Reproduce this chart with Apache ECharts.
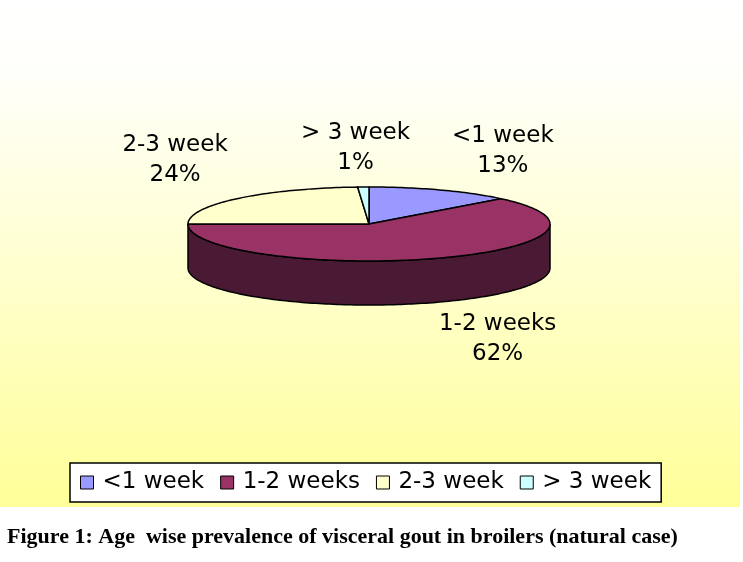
<!DOCTYPE html>
<html lang="en">
<head>
    <meta charset="UTF-8">
    <title>Age wise prevalence of visceral gout in broilers</title>
    <script src="https://cdn.jsdelivr.net/npm/echarts@6/dist/echarts.min.js"></script>
    <style>
        html, body { margin: 0; padding: 0; background: #fff; }
    </style>
</head>
<body>
<div id="main" style="width: 743px;height:562px;"></div>
<script>
    // data (percent of cases)
    var ageGroups = ['<1 week', '1-2 weeks', '2-3 week', '> 3 week'];
    var cases = [13, 62, 24, 1];
    var topColors = ['#9999FF', '#993366', '#FFFFCC', '#CCFFFF'];
    var sideColors = ['#5C5C99', '#4A1A35', '#99997A', '#7A9999'];

    var total = cases.reduce(function (a, b) { return a + b; }, 0);
    var starts = [];
    var acc = 0;
    cases.forEach(function (v) { starts.push(acc); acc += v; });

    // pie geometry
    var cx = 369, cy = 224, rx = 181, ry = 37, depth = 44;

    function pt(t, dy) {
        return [cx + rx * Math.sin(t), cy - ry * Math.cos(t) + (dy || 0)];
    }

    function arc(a, b, dy) {
        var pts = [];
        var n = Math.max(2, Math.ceil((b - a) / 0.02));
        for (var i = 0; i <= n; i++) pts.push(pt(a + (b - a) * i / n, dy));
        return pts;
    }

    function renderSlice(params, api) {
        var i = params.dataIndex;
        var a = starts[i] / total * Math.PI * 2;
        var b = (starts[i] + cases[i]) / total * Math.PI * 2;
        var children = [];

        // front wall: only the part between 90 and 270 degrees is visible
        var sa = Math.max(a, Math.PI / 2), sb = Math.min(b, Math.PI * 1.5);
        if (sb > sa) {
            var top = arc(sa, sb, 0);
            var bottom = arc(sa, sb, depth).reverse();
            children.push({
                type: 'polygon',
                z2: 1,
                shape: { points: top.concat(bottom) },
                style: { fill: sideColors[i], stroke: '#000', lineWidth: 1.5 }
            });
        }

        children.push({
            type: 'polygon',
            z2: 2,
            shape: { points: [[cx, cy]].concat(arc(a, b, 0)) },
            style: { fill: topColors[i], stroke: '#000', lineWidth: 1.5, lineJoin: 'round' }
        });

        // data label, set off from the rim at the slice's middle angle
        var m = (a + b) / 2;
        var front = Math.cos(m) < 0;
        var rim = pt(m, front ? depth : 0);
        var sx = Math.max(-1, Math.min(1, Math.sin(m) * 4));
        children.push({
            type: 'text',
            z2: 3,
            style: {
                x: rim[0] + 62 * sx,
                y: rim[1] + (front ? 37 : -39),
                text: ageGroups[i] + '\n' + Math.round(cases[i] / total * 100) + '%',
                align: 'center',
                verticalAlign: 'middle',
                fill: '#000',
                font: '23px "DejaVu Sans"',
                lineHeight: 30
            }
        });

        return { type: 'group', children: children };
    }

    var myChart = echarts.init(document.getElementById('main'));
    myChart.setOption({
        animation: false,
        title: {
            text: 'Figure 1: Age  wise prevalence of visceral gout in broilers (natural case)',
            left: 2,
            top: 521,
            textStyle: {
                fontFamily: 'Liberation Serif',
                fontWeight: 'bold',
                fontSize: 22,
                color: '#000'
            }
        },
        graphic: [{
            type: 'rect',
            z: -10,
            silent: true,
            shape: { x: 0, y: 0, width: 740, height: 507 },
            style: {
                fill: new echarts.graphic.LinearGradient(0, 0, 0, 1, [
                    { offset: 0, color: '#FFFFFF' },
                    { offset: 0.15, color: '#FFFFFA' },
                    { offset: 1, color: '#FFFF99' }
                ])
            }
        }],
        legend: {
            data: ageGroups,
            left: 70,
            top: 463,
            orient: 'horizontal',
            icon: 'rect',
            itemWidth: 13,
            itemHeight: 13,
            itemGap: 16,
            backgroundColor: '#fff',
            borderColor: '#000',
            borderWidth: 1.5,
            borderRadius: 0,
            padding: [8, 10, 8, 10],
            itemStyle: { borderColor: '#000', borderWidth: 1 },
            textStyle: {
                fontFamily: 'DejaVu Sans',
                fontSize: 23,
                color: '#000',
                padding: [0, 0, 0, 4]
            }
        },
        series: [
            {
                // draws the tilted pie
                type: 'custom',
                coordinateSystem: 'none',
                silent: true,
                renderItem: renderSlice,
                data: cases
            },
            {
                // zero-size pie, only feeds the legend its swatches
                type: 'pie',
                radius: [0, 0],
                center: [cx, cy],
                silent: true,
                label: { show: false },
                labelLine: { show: false },
                data: ageGroups.map(function (name, i) {
                    return { name: name, value: cases[i], itemStyle: { color: topColors[i] } };
                })
            }
        ]
    });
</script>
</body>
</html>
